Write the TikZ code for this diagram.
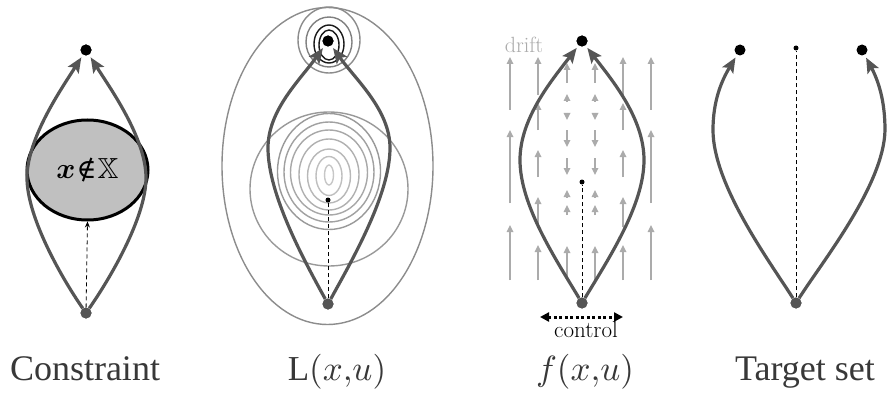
\documentclass[tikz,border=0pt]{standalone}
\usepackage{amsmath,amssymb}
\usepackage{graphicx}
\usepackage{fontspec}
\setmainfont{Liberation Serif}
\newfontfamily\lmfont{Latin Modern Roman}
\newfontfamily\djsfont{DejaVu Serif}
\usetikzlibrary{arrows.meta,shapes.geometric}
\definecolor{trajc}{HTML}{555555}
\definecolor{ellfill}{HTML}{C0C0C0}
\definecolor{driftc}{HTML}{ABABAB}
\tikzset{
 traj/.style={draw=trajc, line width=3.2pt, -{Stealth[length=15pt,width=12.5pt,inset=3pt]}, shorten >=3pt},
 topdot/.style={circle, fill=black, inner sep=0pt, minimum size=11pt},
 botdot/.style={circle, fill=trajc, inner sep=0pt, minimum size=11pt},
 smalldot/.style={circle, fill=black, inner sep=0pt, minimum size=5pt},
 guide/.style={draw=black, line width=0.8pt, dash pattern=on 4pt off 3pt},
 ring/.style={line width=1.4pt},
 drift/.style={draw=driftc, line width=1.6pt, -{Triangle[length=7pt,width=6.5pt]}},
 lab/.style={anchor=base, text=black!78, inner sep=0pt, font=\fontsize{36}{40}\selectfont},
 mlab/.style={anchor=base, text=black!78, inner sep=0pt},
}
\begin{document}
\begin{tikzpicture}[x=1pt,y=-1pt]
\clip (0,0) rectangle (887,396);
\fill[white] (0,0) rectangle (887,396);

% ---------------- Panel 1: Constraint
\node[ellipse, draw=black, line width=3pt, fill=ellfill, minimum width=121pt, minimum height=100pt, inner sep=0pt]
  (e1) at (87.5,170) {\scalebox{2.9}{$\boldsymbol{x}$}\hspace{1pt}{\djsfont\fontsize{27}{30}\selectfont ∉}\hspace{1pt}\scalebox{2.9}{$\mathbb{X}$}};
\node[topdot] (t1) at (86,50) {};
\node[botdot] (b1) at (86,313) {};
\draw[guide, -{Stealth[length=6pt,width=5pt]}] (b1) -- (e1.south);
\draw[traj] (b1) .. controls (63,280) and (27,218) .. (27,178) .. controls (27,138) and (62,88) .. (t1);
\draw[traj] (b1) .. controls (109,280) and (146,218) .. (146,178) .. controls (146,138) and (110,88) .. (t1);
\node[botdot] at (b1) {};
\node[topdot] at (t1) {};

% ---------------- Panel 2: L(x,u)
\draw[ring, draw=black!45] (327.5,166) ellipse [x radius=105.5, y radius=158.5];
\draw[ring, draw=black!40] (329,189) ellipse [x radius=79, y radius=77];
\draw[ring, draw=black!22] (329,175) ellipse [x radius=4.5, y radius=10];
\draw[ring, draw=black!25] (329,176) ellipse [x radius=13, y radius=19.5];
\draw[ring, draw=black!28] (329,176) ellipse [x radius=21.5, y radius=27];
\draw[ring, draw=black!31] (329,174.5) ellipse [x radius=30, y radius=35.5];
\draw[ring, draw=black!34] (329,172.5) ellipse [x radius=38.5, y radius=42.5];
\draw[ring, draw=black!37] (329,172) ellipse [x radius=45, y radius=50];
\draw[ring, draw=black!40] (329,171.5) ellipse [x radius=51.5, y radius=58];
\draw[ring, draw=black!45] (329,40) ellipse [x radius=31, y radius=33];
\draw[ring, draw=black!50] (329,42) ellipse [x radius=23, y radius=25];
\draw[ring, draw=black!90] (329,44) ellipse [x radius=15, y radius=19];
\draw[ring, draw=black!90] (329,45) ellipse [x radius=10, y radius=15];
\node[topdot] (t2) at (328,41) {};
\node[botdot] (b2) at (328,304) {};
\node[smalldot] (m2) at (328,200) {};
\draw[guide] (b2) -- (m2);
\draw[traj] (b2) .. controls (305,262) and (268,195) .. (268,148) .. controls (268,110) and (300,80) .. (t2);
\draw[traj] (b2) .. controls (351,262) and (390,195) .. (390,148) .. controls (390,110) and (356,80) .. (t2);
\node[botdot] at (b2) {};
\node[topdot] at (t2) {};

% ---------------- Panel 3: f(x,u)
\foreach \x in {510,651} {
  \foreach \a/\b in {110/57,203/130,280/225} \draw[drift] (\x,\a) -- (\x,\b);
}
\foreach \x in {538,623} {
  \foreach \a/\b in {95/57,130/103,177/150,227/197,280/245} \draw[drift] (\x,\a) -- (\x,\b);
}
\foreach \x in {567,595} {
  \foreach \a/\b in {83/63,101/94,113/120,130/147,158/175,197/190,215/205,280/246} \draw[drift] (\x,\a) -- (\x,\b);
}
\node[anchor=base, text=driftc, inner sep=0pt, font=\lmfont\fontsize{22}{24}\selectfont] (dr) at (524,53) {drift};
\node[topdot] (t3) at (582,41) {};
\node[botdot] (b3) at (582,303) {};
\node[smalldot] (m3) at (582,182) {};
\draw[guide] (b3) -- (m3);
\draw[traj] (b3) .. controls (555,258) and (520,205) .. (520,160) .. controls (520,118) and (552,80) .. (t3);
\draw[traj] (b3) .. controls (609,258) and (644,205) .. (644,160) .. controls (644,118) and (612,80) .. (t3);
\node[botdot] at (b3) {};
\node[topdot] at (t3) {};
\coordinate (cl) at (540,317);
\coordinate (cr) at (623,317);
\draw[black, line width=3pt, dash pattern=on 3pt off 2.5pt, {Triangle[length=9pt,width=9pt]}-{Triangle[length=9pt,width=9pt]}] (cl) -- (cr);
\node[anchor=base, text=black, inner sep=0pt, font=\lmfont\fontsize{23}{26}\selectfont] (ct) at (586,337) {control};

% ---------------- Panel 4: Target set
\node[topdot] (tl) at (740,50) {};
\node[topdot] (tr) at (862,50) {};
\node[smalldot] (m4) at (796,48) {};
\node[botdot] (b4) at (796,303) {};
\draw[guide] (b4) -- (m4);
\draw[traj] (b4) .. controls (770,262) and (713,185) .. (713,130) .. controls (713,100) and (722,80) .. (tl);
\draw[traj] (b4) .. controls (822,262) and (884,185) .. (885,130) .. controls (885,100) and (878,80) .. (tr);
\node[botdot] at (b4) {};

% ---------------- Labels
\node[lab] (l1) at (85,380) {Constraint};
\node[mlab] (l2) at (337,380) {\scalebox{3.5}{$\mathrm{L}(x{,}u)$}};
\node[mlab] (l3) at (585,380) {\scalebox{3.5}{$f(x{,}u)$}};
\node[lab] (l4) at (805,380) {Target set};
\end{tikzpicture}
\end{document}
